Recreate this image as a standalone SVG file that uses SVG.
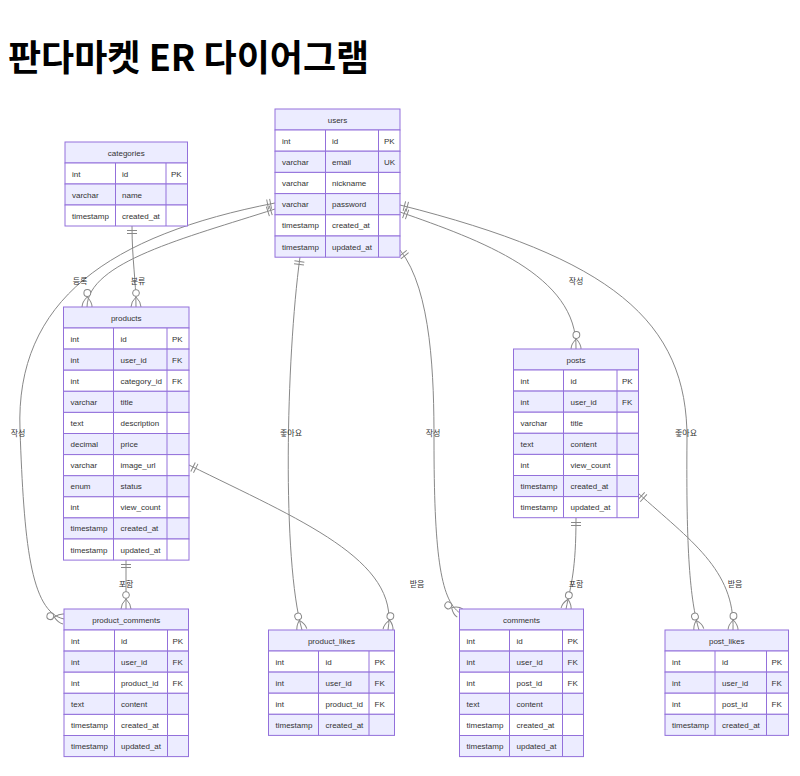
<svg xmlns="http://www.w3.org/2000/svg" width="800" height="776" viewBox="0 0 800 776">
<style>
.hd{fill:#ECECFF;stroke:#9370DB;stroke-width:1}
.r0{fill:#FFFFFF;stroke:#9370DB;stroke-width:1}
.r1{fill:#ECECFF;stroke:#9370DB;stroke-width:1}
.cl{stroke:#9370DB;stroke-width:1}
.t{font-family:"Liberation Sans","DejaVu Sans",sans-serif;font-size:8px;fill:#333}
.h{text-anchor:middle}
.e{fill:none;stroke:#888;stroke-width:1;marker-start:url(#one);marker-end:url(#many)}
.lb{font-family:"Liberation Sans","Noto Sans CJK KR",sans-serif;font-size:8px;fill:#333;text-anchor:middle}
.title{font-family:"Noto Sans CJK KR","Liberation Sans",sans-serif;font-size:36px;font-weight:bold;fill:#000}
</style>
<defs>
<marker id="one" markerUnits="userSpaceOnUse" markerWidth="14" markerHeight="14" refX="0" refY="7" orient="auto" overflow="visible">
<path d="M4.5,2 V12 M7.5,2 V12" stroke="#888" stroke-width="1" fill="none"/>
</marker>
<marker id="many" markerUnits="userSpaceOnUse" markerWidth="20" markerHeight="14" refX="18" refY="7" orient="auto" overflow="visible">
<path d="M8,7 Q13,2 18,2 M8,7 Q13,12 18,12" stroke="#888" stroke-width="1" fill="none"/>
<circle cx="4" cy="7" r="3.4" fill="#fff" stroke="#888" stroke-width="1"/>
</marker>
</defs>
<rect width="800" height="776" fill="#fff"/>
<text class="title" x="8" y="71">판다마켓 ER 다이어그램</text>

<g id="connectors">
<path class="e" d="M132,226 C132,260 136,280 136,307"/>
<path class="e" d="M275,209 C185,238 88,262 87,307"/>
<path class="e" d="M275,203 C110,235 15,300 20,430 C24,540 30,612 64,619"/>
<path class="e" d="M300,257 C286,360 282,560 302,630"/>
<path class="e" d="M189,465 C300,520 400,560 388,630"/>
<path class="e" d="M126,560 L126,609"/>
<path class="e" d="M400,250 C432,290 434,380 434,440 C434,550 440,600 460,613"/>
<path class="e" d="M400,212 C480,240 578,275 576,349"/>
<path class="e" d="M400,205 C610,258 688,320 687,440 C686,550 690,600 699,630"/>
<path class="e" d="M576,518 C576,570 571,585 566,609"/>
<path class="e" d="M638,493 C690,540 735,570 733,630"/>
<text class="lb" x="80" y="284">등록</text>
<text class="lb" x="138" y="284">분류</text>
<text class="lb" x="18" y="436">작성</text>
<text class="lb" x="291" y="436">좋아요</text>
<text class="lb" x="433" y="436">작성</text>
<text class="lb" x="576" y="284">작성</text>
<text class="lb" x="686" y="436">좋아요</text>
<text class="lb" x="126" y="587">포함</text>
<text class="lb" x="417" y="587">받음</text>
<text class="lb" x="576" y="587">포함</text>
<text class="lb" x="735" y="587">받음</text>
</g>

<g id="users">
<rect class="hd" x="275" y="109" width="125" height="21"/>
<text class="t h" x="337.5" y="122.5">users</text>
<rect class="r0" x="275" y="130" width="125" height="21.2"/>
<rect class="r1" x="275" y="151.2" width="125" height="21.2"/>
<rect class="r0" x="275" y="172.4" width="125" height="21.2"/>
<rect class="r1" x="275" y="193.6" width="125" height="21.2"/>
<rect class="r0" x="275" y="214.8" width="125" height="21.2"/>
<rect class="r1" x="275" y="236" width="125" height="21.2"/>
<path class="cl" d="M325.5,130 V257.2 M378.5,130 V257.2"/>
<text class="t" x="282" y="143.5">int</text><text class="t" x="332" y="143.5">id</text><text class="t" x="384" y="143.5">PK</text>
<text class="t" x="282" y="164.7">varchar</text><text class="t" x="332" y="164.7">email</text><text class="t" x="384" y="164.7">UK</text>
<text class="t" x="282" y="185.9">varchar</text><text class="t" x="332" y="185.9">nickname</text>
<text class="t" x="282" y="207.1">varchar</text><text class="t" x="332" y="207.1">password</text>
<text class="t" x="282" y="228.3">timestamp</text><text class="t" x="332" y="228.3">created_at</text>
<text class="t" x="282" y="249.5">timestamp</text><text class="t" x="332" y="249.5">updated_at</text>
</g>

<g id="categories">
<rect class="hd" x="65" y="142" width="122.5" height="21"/>
<text class="t h" x="126.25" y="155.5">categories</text>
<rect class="r0" x="65" y="163" width="122.5" height="21"/>
<rect class="r1" x="65" y="184" width="122.5" height="21"/>
<rect class="r0" x="65" y="205" width="122.5" height="21"/>
<path class="cl" d="M115.5,163 V226 M166,163 V226"/>
<text class="t" x="72" y="176.5">int</text><text class="t" x="122" y="176.5">id</text><text class="t" x="171" y="176.5">PK</text>
<text class="t" x="72" y="197.5">varchar</text><text class="t" x="122" y="197.5">name</text>
<text class="t" x="72" y="218.5">timestamp</text><text class="t" x="122" y="218.5">created_at</text>
</g>

<g id="products">
<rect class="hd" x="63.5" y="307" width="125.5" height="21"/>
<text class="t h" x="126.25" y="320.5">products</text>
<rect class="r0" x="63.5" y="328" width="125.5" height="21.1"/>
<rect class="r1" x="63.5" y="349.1" width="125.5" height="21.1"/>
<rect class="r0" x="63.5" y="370.2" width="125.5" height="21.1"/>
<rect class="r1" x="63.5" y="391.3" width="125.5" height="21.1"/>
<rect class="r0" x="63.5" y="412.4" width="125.5" height="21.1"/>
<rect class="r1" x="63.5" y="433.5" width="125.5" height="21.1"/>
<rect class="r0" x="63.5" y="454.6" width="125.5" height="21.1"/>
<rect class="r1" x="63.5" y="475.7" width="125.5" height="21.1"/>
<rect class="r0" x="63.5" y="496.8" width="125.5" height="21.1"/>
<rect class="r1" x="63.5" y="517.9" width="125.5" height="21.1"/>
<rect class="r0" x="63.5" y="539" width="125.5" height="21.1"/>
<path class="cl" d="M113.5,328 V560.1 M167,328 V560.1"/>
<text class="t" x="70.5" y="341.5">int</text><text class="t" x="120.5" y="341.5">id</text><text class="t" x="172" y="341.5">PK</text>
<text class="t" x="70.5" y="362.6">int</text><text class="t" x="120.5" y="362.6">user_id</text><text class="t" x="172" y="362.6">FK</text>
<text class="t" x="70.5" y="383.7">int</text><text class="t" x="120.5" y="383.7">category_id</text><text class="t" x="172" y="383.7">FK</text>
<text class="t" x="70.5" y="404.8">varchar</text><text class="t" x="120.5" y="404.8">title</text>
<text class="t" x="70.5" y="425.9">text</text><text class="t" x="120.5" y="425.9">description</text>
<text class="t" x="70.5" y="447">decimal</text><text class="t" x="120.5" y="447">price</text>
<text class="t" x="70.5" y="468.1">varchar</text><text class="t" x="120.5" y="468.1">image_url</text>
<text class="t" x="70.5" y="489.2">enum</text><text class="t" x="120.5" y="489.2">status</text>
<text class="t" x="70.5" y="510.3">int</text><text class="t" x="120.5" y="510.3">view_count</text>
<text class="t" x="70.5" y="531.4">timestamp</text><text class="t" x="120.5" y="531.4">created_at</text>
<text class="t" x="70.5" y="552.5">timestamp</text><text class="t" x="120.5" y="552.5">updated_at</text>
</g>

<g id="posts">
<rect class="hd" x="513.5" y="349" width="125" height="21"/>
<text class="t h" x="576" y="362.5">posts</text>
<rect class="r0" x="513.5" y="370" width="125" height="21.1"/>
<rect class="r1" x="513.5" y="391.1" width="125" height="21.1"/>
<rect class="r0" x="513.5" y="412.2" width="125" height="21.1"/>
<rect class="r1" x="513.5" y="433.3" width="125" height="21.1"/>
<rect class="r0" x="513.5" y="454.4" width="125" height="21.1"/>
<rect class="r1" x="513.5" y="475.5" width="125" height="21.1"/>
<rect class="r0" x="513.5" y="496.6" width="125" height="21.1"/>
<path class="cl" d="M563.5,370 V517.7 M617,370 V517.7"/>
<text class="t" x="520.5" y="383.5">int</text><text class="t" x="570.5" y="383.5">id</text><text class="t" x="622" y="383.5">PK</text>
<text class="t" x="520.5" y="404.6">int</text><text class="t" x="570.5" y="404.6">user_id</text><text class="t" x="622" y="404.6">FK</text>
<text class="t" x="520.5" y="425.7">varchar</text><text class="t" x="570.5" y="425.7">title</text>
<text class="t" x="520.5" y="446.8">text</text><text class="t" x="570.5" y="446.8">content</text>
<text class="t" x="520.5" y="467.9">int</text><text class="t" x="570.5" y="467.9">view_count</text>
<text class="t" x="520.5" y="489">timestamp</text><text class="t" x="570.5" y="489">created_at</text>
<text class="t" x="520.5" y="510.1">timestamp</text><text class="t" x="570.5" y="510.1">updated_at</text>
</g>

<g id="product_comments">
<rect class="hd" x="64" y="609" width="124.5" height="21"/>
<text class="t h" x="126.25" y="622.5">product_comments</text>
<rect class="r0" x="64" y="630" width="124.5" height="21.1"/>
<rect class="r1" x="64" y="651.1" width="124.5" height="21.1"/>
<rect class="r0" x="64" y="672.2" width="124.5" height="21.1"/>
<rect class="r1" x="64" y="693.3" width="124.5" height="21.1"/>
<rect class="r0" x="64" y="714.4" width="124.5" height="21.1"/>
<rect class="r1" x="64" y="735.5" width="124.5" height="21.1"/>
<path class="cl" d="M114.5,630 V756.6 M167.5,630 V756.6"/>
<text class="t" x="71" y="643.5">int</text><text class="t" x="121" y="643.5">id</text><text class="t" x="172.5" y="643.5">PK</text>
<text class="t" x="71" y="664.6">int</text><text class="t" x="121" y="664.6">user_id</text><text class="t" x="172.5" y="664.6">FK</text>
<text class="t" x="71" y="685.7">int</text><text class="t" x="121" y="685.7">product_id</text><text class="t" x="172.5" y="685.7">FK</text>
<text class="t" x="71" y="706.8">text</text><text class="t" x="121" y="706.8">content</text>
<text class="t" x="71" y="727.9">timestamp</text><text class="t" x="121" y="727.9">created_at</text>
<text class="t" x="71" y="749">timestamp</text><text class="t" x="121" y="749">updated_at</text>
</g>

<g id="product_likes">
<rect class="hd" x="268.5" y="630" width="126" height="21"/>
<text class="t h" x="331.5" y="643.5">product_likes</text>
<rect class="r0" x="268.5" y="651" width="126" height="21.1"/>
<rect class="r1" x="268.5" y="672.1" width="126" height="21.1"/>
<rect class="r0" x="268.5" y="693.2" width="126" height="21.1"/>
<rect class="r1" x="268.5" y="714.3" width="126" height="21.1"/>
<path class="cl" d="M318.5,651 V735.4 M369,651 V735.4"/>
<text class="t" x="275.5" y="664.5">int</text><text class="t" x="325.5" y="664.5">id</text><text class="t" x="374.5" y="664.5">PK</text>
<text class="t" x="275.5" y="685.6">int</text><text class="t" x="325.5" y="685.6">user_id</text><text class="t" x="374.5" y="685.6">FK</text>
<text class="t" x="275.5" y="706.7">int</text><text class="t" x="325.5" y="706.7">product_id</text><text class="t" x="374.5" y="706.7">FK</text>
<text class="t" x="275.5" y="727.8">timestamp</text><text class="t" x="325.5" y="727.8">created_at</text>
</g>

<g id="comments">
<rect class="hd" x="459.5" y="609" width="124" height="21"/>
<text class="t h" x="521.5" y="622.5">comments</text>
<rect class="r0" x="459.5" y="630" width="124" height="21.1"/>
<rect class="r1" x="459.5" y="651.1" width="124" height="21.1"/>
<rect class="r0" x="459.5" y="672.2" width="124" height="21.1"/>
<rect class="r1" x="459.5" y="693.3" width="124" height="21.1"/>
<rect class="r0" x="459.5" y="714.4" width="124" height="21.1"/>
<rect class="r1" x="459.5" y="735.5" width="124" height="21.1"/>
<path class="cl" d="M509.5,630 V756.6 M562.5,630 V756.6"/>
<text class="t" x="466.5" y="643.5">int</text><text class="t" x="516.5" y="643.5">id</text><text class="t" x="567.5" y="643.5">PK</text>
<text class="t" x="466.5" y="664.6">int</text><text class="t" x="516.5" y="664.6">user_id</text><text class="t" x="567.5" y="664.6">FK</text>
<text class="t" x="466.5" y="685.7">int</text><text class="t" x="516.5" y="685.7">post_id</text><text class="t" x="567.5" y="685.7">FK</text>
<text class="t" x="466.5" y="706.8">text</text><text class="t" x="516.5" y="706.8">content</text>
<text class="t" x="466.5" y="727.9">timestamp</text><text class="t" x="516.5" y="727.9">created_at</text>
<text class="t" x="466.5" y="749">timestamp</text><text class="t" x="516.5" y="749">updated_at</text>
</g>

<g id="post_likes">
<rect class="hd" x="665" y="630" width="123.5" height="21"/>
<text class="t h" x="726.75" y="643.5">post_likes</text>
<rect class="r0" x="665" y="651" width="123.5" height="21.1"/>
<rect class="r1" x="665" y="672.1" width="123.5" height="21.1"/>
<rect class="r0" x="665" y="693.2" width="123.5" height="21.1"/>
<rect class="r1" x="665" y="714.3" width="123.5" height="21.1"/>
<path class="cl" d="M715,651 V735.4 M766.5,651 V735.4"/>
<text class="t" x="672" y="664.5">int</text><text class="t" x="722" y="664.5">id</text><text class="t" x="771.5" y="664.5">PK</text>
<text class="t" x="672" y="685.6">int</text><text class="t" x="722" y="685.6">user_id</text><text class="t" x="771.5" y="685.6">FK</text>
<text class="t" x="672" y="706.7">int</text><text class="t" x="722" y="706.7">post_id</text><text class="t" x="771.5" y="706.7">FK</text>
<text class="t" x="672" y="727.8">timestamp</text><text class="t" x="722" y="727.8">created_at</text>
</g>
</svg>
